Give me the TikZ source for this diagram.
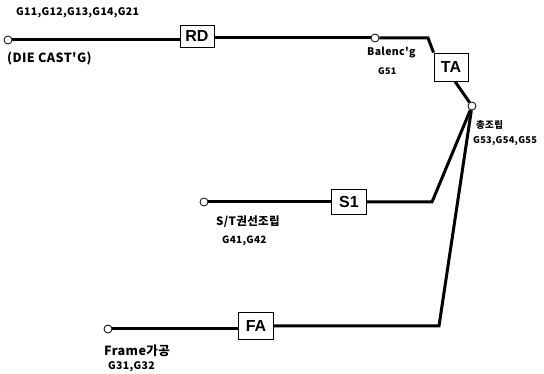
\documentclass[tikz,border=0pt]{standalone}
\usepackage{fontspec}
\setmainfont{Liberation Sans}
\newfontfamily\kr[LetterSpace=3]{Noto Sans CJK KR}
\usetikzlibrary{positioning}

\begin{document}
\begin{tikzpicture}[x=1pt, y=-1pt,
  line/.style={line width=3pt},
  stn/.style={circle, draw, fill=white, line width=0.8pt, inner sep=0pt, minimum size=8pt},
  block/.style={draw, fill=white, line width=0.9pt, inner sep=0pt, font=\fontsize{16}{16}\selectfont\bfseries},
  lbl/.style={inner sep=0pt, anchor=west, font=\kr\bfseries\fontsize{10.5}{11}\selectfont},
  big/.style={font=\kr\bfseries\fontsize{12.6}{13}\selectfont}]
\useasboundingbox (0,0) rectangle (544,374);
% die cast line
\node[stn] (dc) at (8,40) {};
\node[block, minimum width=34pt, minimum height=22pt] (rd) at (197,36) {RD};
\node[stn] (bal) at (375,38) {};
\coordinate (c1) at (428,38);
\node[block, minimum width=34pt, minimum height=28pt] (ta) at (451,67) {TA};
\node[stn] (tot) at (472,106) {};
% stator line
\node[stn] (st) at (204,202) {};
\node[block, minimum width=35pt, minimum height=25pt] (si) at (349,202) {S1};
\coordinate (c2) at (432,202);
% frame line
\node[stn] (fr) at (108,329) {};
\node[block, minimum width=35pt, minimum height=27pt] (fa) at (256,326) {FA};
\coordinate (c3) at (439,326);
% connectors
\draw[line] (dc) -- (rd.west |- dc);
\draw[line] (rd.east |- bal) -- (bal);
\draw[line] (bal) -- (c1) -- (ta.north west);
\draw[line] (ta.south) ++(4,0) coordinate (tb) -- (tot);
\draw[line] (st) -- (si);
\draw[line] (si) -- (c2) -- (tot);
\draw[line] (fr) -- (fa.west |- fr);
\draw[line] (fa) -- (c3) -- (tot);
% labels
\node[lbl] (g1) at (16,13) {G11,G12,G13,G14,G21};
\node[lbl, big] (dcl) at (7,58) {(DIE CAST'G)};
\node[lbl] (ball) at (367,53) {Balenc'g};
\node[lbl, font=\kr\bfseries\fontsize{9}{10}\selectfont] (g5) at (378,71) {G51};
\node[lbl, font=\kr\bfseries\fontsize{9.5}{10}\selectfont] (totl) at (476,125) {총조립};
\node[lbl, font=\kr\bfseries\fontsize{9.3}{10}\selectfont] (g53) at (473,141) {G53,G54,G55};
\node[lbl, font=\kr\bfseries\fontsize{11.5}{12}\selectfont] (stl) at (216,222) {S/T권선조립};
\node[lbl, font=\kr\bfseries\fontsize{10}{11}\selectfont] (g4) at (222,241) {G41,G42};
\node[lbl, big] (frl) at (104,351) {Frame가공};
\node[lbl] (g3) at (108,367) {G31,G32};
\end{tikzpicture}
\end{document}
